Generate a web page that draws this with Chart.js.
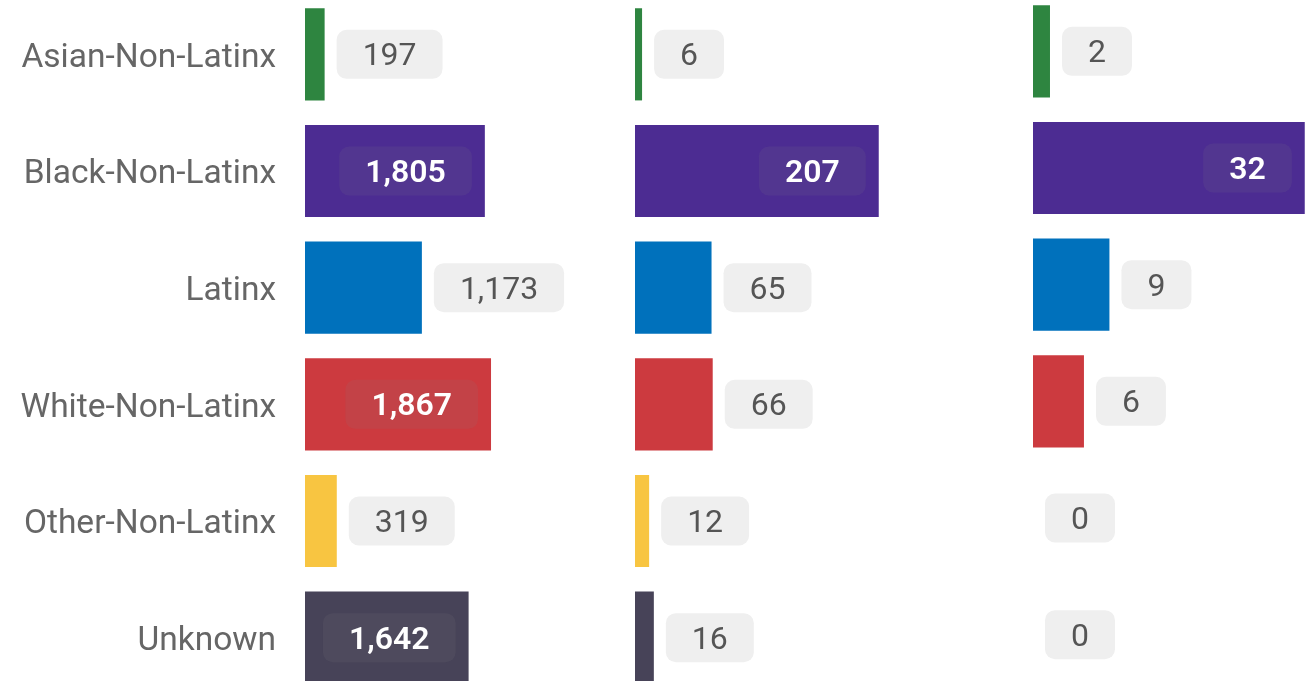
<!DOCTYPE html>
<html>
<head>
<meta charset="utf-8">
<script src="https://cdn.jsdelivr.net/npm/chart.js@4.4.1/dist/chart.umd.min.js"></script>
<style>
  html, body { margin: 0; padding: 0; background: #fff; overflow: hidden; }
  body { width: 1309px; height: 681px; position: relative; }
  canvas { position: absolute; }
  #panel1 { left: 0; top: -4px; }
  #panel2 { left: 635px; top: -4px; }
  #panel3 { left: 1033px; top: -7px; }
</style>
</head>
<body>
<canvas id="panel1" width="635" height="700"></canvas>
<canvas id="panel2" width="398" height="700"></canvas>
<canvas id="panel3" width="276" height="700"></canvas>
<script>
/* =========================================================
   Three horizontal bar panels sharing one set of categories
   ========================================================= */

const categories = ['Asian-Non-Latinx', 'Black-Non-Latinx', 'Latinx', 'White-Non-Latinx', 'Other-Non-Latinx', 'Unknown'];

const panel1Values = [197, 1805, 1173, 1867, 319, 1642];
const panel2Values = [6, 207, 65, 66, 12, 16];
const panel3Values = [2, 32, 9, 6, 0, 0];

const barColors = ['#2e8540', '#4c2c92', '#0071bc', '#cc3a3f', '#f8c541', '#474358'];

// axis end for each panel (the panels are not on a common scale)
const panel1Max = 3312;
const panel2Max = 338;
const panel3Max = 32.5;

const FONT = 'Roboto, "Liberation Sans", Arial, sans-serif';

// pill with the value, drawn inside the bar when it fits, else right of it
const valuePills = {
  id: 'valuePills',
  afterDatasetsDraw(chart) {
    const ctx    = chart.ctx;
    const meta   = chart.getDatasetMeta(0);
    const values = chart.data.datasets[0].data;
    const padX = 26, pillH = 49, gap = 12;

    ctx.save();
    meta.data.forEach((bar, i) => {
      const { x, y, base } = bar.getProps(['x', 'y', 'base'], true);
      const text  = values[i].toLocaleString('en-US');
      const barW  = x - base;

      ctx.font = '600 32px ' + FONT;
      const boldW = ctx.measureText(text).width;
      const inside = boldW + 2 * padX + 2 * gap <= barW;

      ctx.font = (inside ? '600 ' : '400 ') + '32px ' + FONT;
      const textW = ctx.measureText(text).width;
      const pillW = textW + 2 * padX;
      const left  = inside ? x - gap - 1 - pillW : x + gap;
      const top   = y - pillH / 2;

      ctx.fillStyle = inside ? 'rgba(128,128,128,0.12)' : '#efefef';
      ctx.beginPath();
      ctx.roundRect(left, top, pillW, pillH, 10);
      ctx.fill();

      ctx.fillStyle    = inside ? '#ffffff' : '#555555';
      ctx.textAlign    = 'center';
      ctx.textBaseline = 'middle';
      ctx.fillText(text, left + pillW / 2, y + 3);
    });
    ctx.restore();
  },
};

function makePanel(canvasId, values, max, showLabels) {
  const yAxis = {
    display: showLabels,
    grid:   { display: false, drawTicks: false },
    border: { display: false },
    ticks:  { padding: 29, labelOffset: 4, color: '#666666', font: { family: FONT, size: 33.5 } },
  };
  if (showLabels) {
    // fixed label column, and no extra room above/below the bars
    yAxis.afterFit = (scale) => {
      scale.width = 305;
      scale.paddingTop = 0;
      scale.paddingBottom = 0;
    };
  }

  return new Chart(document.getElementById(canvasId), {
    type: 'bar',
    data: {
      labels: categories,
      datasets: [{
        data:               values,
        backgroundColor:    barColors,
        borderWidth:        0,
        categoryPercentage: 0.79,
        barPercentage:      1,
      }],
    },
    options: {
      indexAxis: 'y',
      responsive: false,
      animation: false,
      events: [],
      layout: { padding: 0 },
      plugins: { legend: { display: false }, tooltip: { enabled: false } },
      scales: {
        x: { display: false, min: 0, max: max },
        y: yAxis,
      },
    },
    plugins: [valuePills],
  });
}

makePanel('panel1', panel1Values, panel1Max, true);
makePanel('panel2', panel2Values, panel2Max, false);
makePanel('panel3', panel3Values, panel3Max, false);
</script>
</body>
</html>
